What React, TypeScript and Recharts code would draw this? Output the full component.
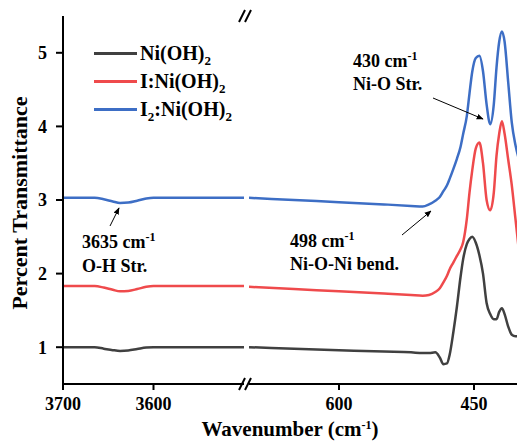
import { LineChart, Line, XAxis, YAxis, Legend } from 'recharts';

// left segment of the broken axis (3700 -> 3500 cm-1)
const leftWn = [3700, 3680, 3665, 3655, 3645, 3637, 3628, 3618, 3608, 3600, 3550, 3500];
const leftNi = [1.0, 1.0, 1.0, 0.98, 0.96, 0.95, 0.955, 0.975, 0.995, 1.0, 1.0, 1.0];
const leftINi = [1.83, 1.83, 1.83, 1.81, 1.78, 1.76, 1.765, 1.79, 1.82, 1.83, 1.83, 1.83];
const leftI2Ni = [3.03, 3.03, 3.03, 3.01, 2.98, 2.96, 2.965, 2.99, 3.02, 3.03, 3.03, 3.03];

// right segment (700 -> 400 cm-1)
const rightWn = [700, 650, 600, 550, 520, 507, 500, 493, 488, 484, 480, 477, 473, 469, 465, 462, 458, 455, 452, 448, 444, 440, 436, 432, 428, 425, 422, 419, 416, 412, 408, 404, 400];
const rightNi = [1.0, 0.98, 0.96, 0.94, 0.93, 0.92, 0.92, 0.93, 0.86, 0.77, 0.78, 0.9, 1.2, 1.55, 1.95, 2.2, 2.4, 2.47, 2.5, 2.42, 2.25, 2.0, 1.6, 1.45, 1.38, 1.38, 1.48, 1.53, 1.45, 1.28, 1.17, 1.15, 1.15];
const rightINi = [1.82, 1.79, 1.76, 1.73, 1.71, 1.7, 1.71, 1.75, 1.8, 1.88, 1.97, 2.06, 2.15, 2.24, 2.33, 2.43, 2.74, 3.1, 3.4, 3.7, 3.78, 3.5, 3.0, 2.86, 3.1, 3.6, 3.9, 4.07, 3.9, 3.55, 3.2, 2.75, 2.3];
const rightI2Ni = [3.03, 3.0, 2.97, 2.94, 2.92, 2.91, 2.94, 2.99, 3.04, 3.12, 3.2, 3.29, 3.42, 3.56, 3.72, 3.9, 4.14, 4.45, 4.74, 4.93, 4.96, 4.75, 4.3, 4.03, 4.3, 4.8, 5.15, 5.29, 5.15, 4.6, 4.05, 3.75, 3.55];

const seriesNames = ['Ni(OH)2', 'I:Ni(OH)2', 'I2:Ni(OH)2'];
const seriesColors = ['#404040', '#ef4a4c', '#3d6ec5'];
const yTicks = [1, 2, 3, 4, 5];
const leftTicks = [3700, 3600];
const rightTicks = [600, 450];

const font = "'Liberation Serif', 'Times New Roman', serif";
const keys = ['ni', 'ini', 'i2ni'];

const buildRows = (wn: number[], a: number[], b: number[], c: number[]) =>
  wn.map((w, i) => ({ wn: w, ni: a[i], ini: b[i], i2ni: c[i] }));

const leftData = buildRows(leftWn, leftNi, leftINi, leftI2Ni);
const rightData = buildRows(rightWn, rightNi, rightINi, rightI2Ni);

const tickStyle = { fontSize: 18, fontWeight: 'bold', fill: '#000', fontFamily: font };
const axisLine = { stroke: '#000', strokeWidth: 2 };

// digits in the formulas are subscripts
const formula = (s: string) =>
  s.split(/(\d)/).map((p, i) =>
    /\d/.test(p) ? (
      <sub key={i} style={{ fontSize: 13, lineHeight: 0 }}>{p}</sub>
    ) : (
      <span key={i}>{p}</span>
    )
  );

// keep the series order of the original (recharts sorts legend items by name)
const renderLegend = () => (
  <div style={{ fontFamily: font, fontWeight: 'bold', fontSize: 20, color: '#000' }}>
    {seriesNames.map((n, i) => (
      <div key={n} style={{ display: 'flex', alignItems: 'center', height: 28 }}>
        <span style={{ width: 43, height: 3, background: seriesColors[i], marginRight: 3 }} />
        <span style={{ whiteSpace: 'nowrap' }}>{formula(n)}</span>
      </div>
    ))}
  </div>
);

const lines = keys.map((k, i) => (
  <Line
    key={k}
    type="monotone"
    dataKey={k}
    name={seriesNames[i]}
    stroke={seriesColors[i]}
    strokeWidth={2.5}
    dot={false}
    isAnimationActive={false}
  />
));

const Sup = ({ t }: { t: string }) => (
  <tspan dy={-7} fontSize={12}>{t}</tspan>
);

const Chart = () => {
  return (
    <div style={{ position: 'absolute', left: 0, top: 0, width: 517, height: 441, overflow: 'hidden', background: '#fff' }}>
      <div style={{ position: 'absolute', left: 0, top: 0 }}>
        <LineChart width={244} height={441} data={leftData} margin={{ top: 16, right: 0, bottom: 27, left: 0 }}>
          <XAxis dataKey="wn" type="number" domain={[3500, 3700]} reversed allowDataOverflow ticks={leftTicks}
            height={30} axisLine={axisLine} tickLine={{ stroke: '#000', strokeWidth: 2 }} tickSize={6} tickMargin={7} tick={tickStyle} />
          <XAxis xAxisId="top" orientation="top" dataKey="wn" type="number" domain={[3500, 3700]} reversed
            height={0} axisLine={axisLine} tick={false} tickLine={false} />
          <YAxis width={63} domain={[0.5, 5.5]} ticks={yTicks} allowDataOverflow axisLine={axisLine}
            tickLine={{ stroke: '#000', strokeWidth: 2 }} tickSize={7} tickMargin={9} tick={tickStyle} />
          <Legend layout="vertical" align="center" verticalAlign="middle" content={renderLegend}
            wrapperStyle={{ top: 39, left: 94, width: 'auto' }} />
          {lines}
        </LineChart>
      </div>
      <div style={{ position: 'absolute', left: 249, top: 0 }}>
        <LineChart width={270} height={441} data={rightData} margin={{ top: 16, right: 0, bottom: 27, left: 0 }}>
          <XAxis dataKey="wn" type="number" domain={[400, 700]} reversed allowDataOverflow ticks={rightTicks}
            height={30} axisLine={axisLine} tickLine={{ stroke: '#000', strokeWidth: 2 }} tickSize={6} tickMargin={7} tick={tickStyle} />
          <XAxis xAxisId="top" orientation="top" dataKey="wn" type="number" domain={[400, 700]} reversed
            height={0} axisLine={axisLine} tick={false} tickLine={false} />
          <YAxis hide domain={[0.5, 5.5]} allowDataOverflow />
          {lines}
        </LineChart>
      </div>
      <svg width={517} height={441} style={{ position: 'absolute', left: 0, top: 0, pointerEvents: 'none' }}>
        <defs>
          <marker id="ah" viewBox="0 0 10 10" refX="9" refY="5" markerWidth="7" markerHeight="7" orient="auto">
            <path d="M0,1 L10,5 L0,9 z" fill="#000" />
          </marker>
        </defs>
        {/* axis break marks */}
        <g stroke="#000" strokeWidth={2}>
          <line x1={239} y1={22} x2={245} y2={10} />
          <line x1={245} y1={22} x2={251} y2={10} />
          <line x1={239} y1={390} x2={245} y2={378} />
          <line x1={245} y1={390} x2={251} y2={378} />
        </g>
        <g fontFamily={font} fontWeight="bold" fill="#000">
          <text x={290} y={436} fontSize={21} textAnchor="middle">
            Wavenumber (cm<Sup t="-1" /><tspan dy={7}>)</tspan>
          </text>
          <text x={27} y={203} fontSize={22} textAnchor="middle" transform="rotate(-90, 27, 203)">
            Percent Transmittance
          </text>
          <g fontSize={18}>
            <text x={82} y={248}>3635 cm<Sup t="-1" /></text>
            <text x={82} y={272}>O-H Str.</text>
            <text x={290} y={247}>498 cm<Sup t="-1" /></text>
            <text x={290} y={270}>Ni-O-Ni bend.</text>
            <text x={353} y={67}>430 cm<Sup t="-1" /></text>
            <text x={353} y={90}>Ni-O Str.</text>
          </g>
        </g>
        <g stroke="#000" strokeWidth={1}>
          <line x1={110} y1={226} x2={119} y2={208} markerEnd="url(#ah)" />
          <line x1={402} y1={235} x2={431} y2={211} markerEnd="url(#ah)" />
          <line x1={433} y1={98} x2={483} y2={119} markerEnd="url(#ah)" />
        </g>
      </svg>
    </div>
  );
};

export default Chart;
